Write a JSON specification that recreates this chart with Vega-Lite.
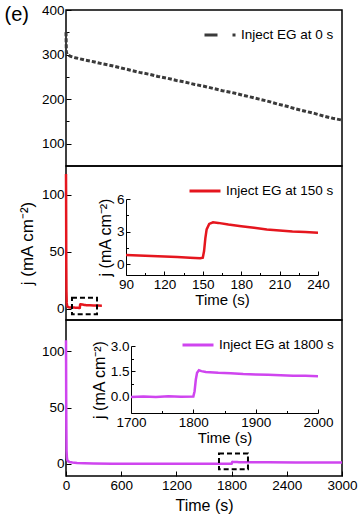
{
  "$schema": "https://vega.github.io/schema/vega-lite/v6.json",
  "padding": {"left": 3, "top": 2, "right": 5, "bottom": 5},
  "spacing": 0,
  "bounds": "flush",
  "config": {
    "font": "Liberation Sans",
    "view": {"stroke": "#000", "strokeWidth": 1.5},
    "axis": {
      "domainColor": "#000", "tickColor": "#000", "labelColor": "#000", "titleColor": "#000",
      "labelFontSize": 13.5, "titleFontSize": 16, "titleFontWeight": "normal", "grid": false,
      "labelFont": "Liberation Sans", "titleFont": "Liberation Sans", "tickWidth": 1, "domainWidth": 1
    },
    "legend": {
      "orient": "top-right", "offset": 8, "padding": 0, "title": null,
      "symbolType": "stroke", "symbolSize": 961, "symbolStrokeWidth": 3,
      "labelFontSize": 13.5, "labelFont": "Liberation Sans", "labelColor": "#000", "labelOffset": 4
    }
  },
  "datasets": {
    "gray": [
      {"t": 0, "j": 350}, {"t": 4, "j": 305}, {"t": 15, "j": 300}, {"t": 50, "j": 296},
      {"t": 100, "j": 293}, {"t": 200, "j": 288}, {"t": 300, "j": 284}, {"t": 400, "j": 279},
      {"t": 500, "j": 275}, {"t": 600, "j": 270}, {"t": 700, "j": 265}, {"t": 800, "j": 260},
      {"t": 900, "j": 256}, {"t": 1000, "j": 251}, {"t": 1100, "j": 247}, {"t": 1200, "j": 242},
      {"t": 1300, "j": 238}, {"t": 1400, "j": 233}, {"t": 1500, "j": 229}, {"t": 1600, "j": 224},
      {"t": 1700, "j": 219}, {"t": 1800, "j": 215}, {"t": 1900, "j": 210}, {"t": 2000, "j": 205},
      {"t": 2100, "j": 200}, {"t": 2200, "j": 195}, {"t": 2300, "j": 189}, {"t": 2400, "j": 184},
      {"t": 2500, "j": 178}, {"t": 2600, "j": 173}, {"t": 2700, "j": 168}, {"t": 2800, "j": 162},
      {"t": 2900, "j": 157}, {"t": 3000, "j": 153}
    ],
    "red": [
      {"t": 0, "j": 118}, {"t": 1, "j": 100}, {"t": 2, "j": 70}, {"t": 3, "j": 40},
      {"t": 5, "j": 15}, {"t": 8, "j": 5}, {"t": 12, "j": 2.5}, {"t": 20, "j": 1.5},
      {"t": 30, "j": 1.2}, {"t": 45, "j": 1.0}, {"t": 60, "j": 0.95}, {"t": 75, "j": 0.9},
      {"t": 90, "j": 0.85}, {"t": 100, "j": 0.8}, {"t": 110, "j": 0.75}, {"t": 120, "j": 0.7},
      {"t": 130, "j": 0.65}, {"t": 140, "j": 0.6}, {"t": 148, "j": 0.55}, {"t": 150, "j": 0.6},
      {"t": 151, "j": 1.2}, {"t": 152, "j": 2.4}, {"t": 153, "j": 3.2}, {"t": 155, "j": 3.7},
      {"t": 158, "j": 3.85}, {"t": 162, "j": 3.8}, {"t": 170, "j": 3.65}, {"t": 180, "j": 3.5},
      {"t": 190, "j": 3.35}, {"t": 200, "j": 3.2}, {"t": 210, "j": 3.1}, {"t": 220, "j": 3.0},
      {"t": 230, "j": 2.95}, {"t": 240, "j": 2.9}, {"t": 260, "j": 2.85}, {"t": 300, "j": 2.75},
      {"t": 350, "j": 2.65}, {"t": 390, "j": 2.6}
    ],
    "purple": [
      {"t": 0, "j": 110}, {"t": 1, "j": 90}, {"t": 2, "j": 60}, {"t": 4, "j": 30},
      {"t": 6, "j": 12}, {"t": 10, "j": 5}, {"t": 15, "j": 3}, {"t": 25, "j": 2},
      {"t": 40, "j": 1.5}, {"t": 70, "j": 1.0}, {"t": 120, "j": 0.6}, {"t": 200, "j": 0.3},
      {"t": 300, "j": 0.1}, {"t": 500, "j": 0}, {"t": 800, "j": -0.05}, {"t": 1200, "j": -0.05},
      {"t": 1500, "j": -0.04}, {"t": 1700, "j": -0.05}, {"t": 1720, "j": -0.02}, {"t": 1740, "j": -0.05},
      {"t": 1760, "j": 0.0}, {"t": 1780, "j": -0.03}, {"t": 1800, "j": -0.02}, {"t": 1802, "j": 0.3},
      {"t": 1804, "j": 1.0}, {"t": 1806, "j": 1.4}, {"t": 1809, "j": 1.55}, {"t": 1813, "j": 1.5},
      {"t": 1820, "j": 1.45}, {"t": 1840, "j": 1.4}, {"t": 1860, "j": 1.38}, {"t": 1880, "j": 1.33},
      {"t": 1900, "j": 1.3}, {"t": 1920, "j": 1.28}, {"t": 1940, "j": 1.25}, {"t": 1960, "j": 1.22},
      {"t": 1980, "j": 1.22}, {"t": 2000, "j": 1.2}, {"t": 2200, "j": 1.15}, {"t": 2500, "j": 1.1},
      {"t": 3000, "j": 1.0}
    ]
  },
  "vconcat": [
    {
      "width": 276, "height": 156,
      "data": {"name": "gray"},
      "mark": {"type": "line", "strokeWidth": 3, "strokeDash": [4, 2]},
      "encoding": {
        "x": {"field": "t", "type": "quantitative", "scale": {"domain": [0, 3000], "nice": false}, "axis": null},
        "y": {"field": "j", "type": "quantitative", "scale": {"domain": [50, 400], "nice": false, "zero": false},
          "axis": {"values": [100, 150, 200, 250, 300, 350, 400], "domain": false,
            "labelExpr": "datum.value % 100 === 0 ? datum.label : ''",
            "tickSize": {"condition": {"test": "datum.value % 100 === 0", "value": -5}, "value": -3},
            "labelPadding": 7,
            "title": "(e)", "titleAngle": 0, "titleAlign": "left", "titleBaseline": "top",
            "titleX": -62, "titleY": -6, "titleFontSize": 20}},
        "color": {"datum": "Inject EG at 0 s", "scale": {"range": ["#3a3a3a"]},
          "legend": {"symbolDash": [13, 15, 3, 10]}}
      }
    },
    {
      "width": 276, "height": 154,
      "layer": [
        {
          "layer": [
            {
              "data": {"name": "red"},
              "mark": {"type": "line", "strokeWidth": 2.5},
              "encoding": {
                "x": {"field": "t", "type": "quantitative", "scale": {"domain": [0, 3000], "nice": false}, "axis": null},
                "y": {"field": "j", "type": "quantitative", "scale": {"domain": [-10, 125], "nice": false, "zero": false},
                  "axis": {"values": [0, 25, 50, 75, 100], "domain": false,
                    "labelExpr": "datum.value % 50 === 0 ? datum.label : ''",
                    "tickSize": {"condition": {"test": "datum.value % 50 === 0", "value": -5}, "value": -3},
                    "labelPadding": 7, "title": "j (mA cm⁻²)", "titlePadding": 5, "titleFontSize": 17}},
                "color": {"datum": "Inject EG at 150 s", "scale": {"range": ["#e5161e"]}}
              }
            },
            {
              "data": {"values": [{"t": 65, "t2": 337, "j": -5, "j2": 9.6}]},
              "mark": {"type": "rect", "fill": null, "stroke": "#000", "strokeWidth": 2, "strokeDash": [5, 3]},
              "encoding": {
                "x": {"field": "t", "type": "quantitative", "axis": null},
                "x2": {"field": "t2"},
                "y": {"field": "j", "type": "quantitative"},
                "y2": {"field": "j2"}
              }
            }
          ]
        },
        {
          "data": {"name": "red"},
          "transform": [{"filter": "datum.t >= 90 && datum.t <= 240"}],
          "mark": {"type": "line", "strokeWidth": 2.5, "color": "#e5161e"},
          "encoding": {
            "x": {"field": "t", "type": "quantitative", "scale": {"domain": [90, 240], "range": [60, 252], "nice": false},
              "axis": {"orient": "bottom", "offset": -45, "values": [90, 105, 120, 135, 150, 165, 180, 195, 210, 225, 240],
                "labelExpr": "datum.value % 30 === 0 ? datum.label : ''",
                "tickSize": {"condition": {"test": "datum.value % 30 === 0", "value": -4}, "value": -2.5},
                "labelPadding": 6, "title": "Time (s)", "titleFontSize": 15, "titlePadding": 2, "labelFlush": false}},
            "y": {"field": "j", "type": "quantitative", "scale": {"domain": [-1, 6], "range": [109, 33], "nice": false, "zero": false},
              "axis": {"orient": "left", "offset": -60, "values": [0, 1.5, 3, 4.5, 6],
                "labelExpr": "datum.value % 3 === 0 ? datum.label : ''",
                "tickSize": {"condition": {"test": "datum.value % 3 === 0", "value": -4}, "value": -2.5},
                "labelPadding": 6, "title": "j (mA cm⁻²)", "titleFontSize": 16, "titlePadding": 3}}
          }
        }
      ],
      "resolve": {"scale": {"x": "independent", "y": "independent"}, "axis": {"x": "independent", "y": "independent"}}
    },
    {
      "width": 276, "height": 156,
      "layer": [
        {
          "layer": [
            {
              "data": {"name": "purple"},
              "mark": {"type": "line", "strokeWidth": 2.5},
              "encoding": {
                "x": {"field": "t", "type": "quantitative", "scale": {"domain": [0, 3000], "nice": false},
                  "axis": {"values": [0, 300, 600, 900, 1200, 1500, 1800, 2100, 2400, 2700, 3000], "domain": false, "format": "d",
                    "labelExpr": "datum.value % 600 === 0 ? datum.label : ''",
                    "tickSize": {"condition": {"test": "datum.value % 600 === 0", "value": -5}, "value": -3},
                    "labelPadding": 7, "title": "Time (s)", "titlePadding": 6, "labelFlush": false}},
                "y": {"field": "j", "type": "quantitative", "scale": {"domain": [-11, 128], "nice": false, "zero": false},
                  "axis": {"values": [0, 25, 50, 75, 100], "domain": false,
                    "labelExpr": "datum.value % 50 === 0 ? datum.label : ''",
                    "tickSize": {"condition": {"test": "datum.value % 50 === 0", "value": -5}, "value": -3},
                    "labelPadding": 7, "title": null}},
                "color": {"datum": "Inject EG at 1800 s", "scale": {"range": ["#cf45ef"]}}
              }
            },
            {
              "data": {"values": [{"t": 1663, "t2": 1978, "j": -5, "j2": 9}]},
              "mark": {"type": "rect", "fill": null, "stroke": "#000", "strokeWidth": 2, "strokeDash": [5, 3]},
              "encoding": {
                "x": {"field": "t", "type": "quantitative"},
                "x2": {"field": "t2"},
                "y": {"field": "j", "type": "quantitative"},
                "y2": {"field": "j2"}
              }
            }
          ]
        },
        {
          "data": {"name": "purple"},
          "transform": [{"filter": "datum.t >= 1700 && datum.t <= 2000"}],
          "mark": {"type": "line", "strokeWidth": 2.5, "color": "#cf45ef"},
          "encoding": {
            "x": {"field": "t", "type": "quantitative", "scale": {"domain": [1700, 2000], "range": [65, 252], "nice": false},
              "axis": {"orient": "bottom", "offset": -63, "values": [1700, 1750, 1800, 1850, 1900, 1950, 2000], "format": "d",
                "labelExpr": "datum.value % 100 === 0 ? datum.label : ''",
                "tickSize": {"condition": {"test": "datum.value % 100 === 0", "value": -4}, "value": -2.5},
                "labelPadding": 6, "title": "Time (s)", "titleFontSize": 15, "titlePadding": 2, "labelFlush": false}},
            "y": {"field": "j", "type": "quantitative", "scale": {"domain": [-1, 3], "range": [93, 26], "nice": false, "zero": false},
              "axis": {"orient": "left", "offset": -65, "values": [0, 0.75, 1.5, 2.25, 3], "format": ".1f",
                "labelExpr": "datum.value % 1.5 === 0 ? datum.label : ''",
                "tickSize": {"condition": {"test": "datum.value % 1.5 === 0", "value": -4}, "value": -2.5},
                "labelPadding": 6, "title": "j (mA cm⁻²)", "titleFontSize": 16, "titlePadding": 3}}
          }
        }
      ],
      "resolve": {"scale": {"x": "independent", "y": "independent"}, "axis": {"x": "independent", "y": "independent"}}
    }
  ],
  "resolve": {"scale": {"color": "independent"}, "legend": {"color": "independent"}}
}
